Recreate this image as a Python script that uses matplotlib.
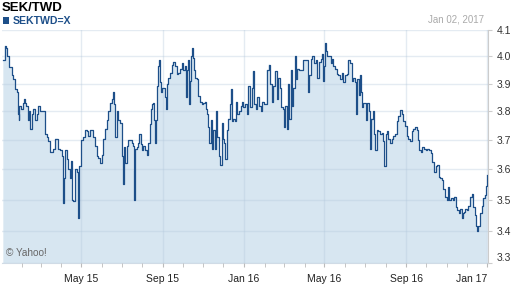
import matplotlib
matplotlib.use("Agg")
import matplotlib.pyplot as plt
import matplotlib.dates as mdates
from matplotlib.patches import Rectangle
from matplotlib.ticker import NullLocator
import pandas as pd

# ===== 1) Datos (leídos del gráfico) =====
start_date = "2015-01-02"
end_date = "2017-01-02"

# días desde start_date
day_offset = [
    2, 4, 6, 8, 11, 15, 17, 20, 23, 24, 25, 26, 29, 32, 33, 35, 36, 39, 40, 42,
    45, 47, 50, 53, 54, 57, 60, 62, 65, 68, 69, 72, 75, 77, 80, 83, 84, 87, 90, 92,
    93, 95, 98, 99, 102, 104, 105, 106, 107, 110, 111, 113, 114, 116, 119, 122, 125, 128, 129, 132,
    135, 137, 140, 143, 144, 147, 150, 152, 155, 158, 160, 162, 165, 167, 169, 170, 173, 175, 178, 181,
    182, 184, 185, 188, 190, 193, 196, 197, 198, 199, 200, 203, 205, 206, 209, 211, 212, 215, 218, 220,
    223, 224, 226, 227, 229, 230, 232, 233, 235, 236, 237, 238, 239, 241, 244, 245, 246, 248, 250, 253,
    256, 257, 260, 263, 265, 268, 271, 272, 275, 277, 278, 280, 281, 283, 284, 286, 287, 289, 290, 293,
    295, 298, 301, 302, 305, 307, 308, 310, 311, 314, 316, 317, 320, 322, 323, 326, 328, 331, 332, 334,
    335, 338, 340, 343, 344, 346, 347, 350, 352, 353, 356, 359, 361, 362, 365, 368, 370, 373, 376, 377,
    379, 382, 383, 386, 389, 391, 394, 397, 398, 401, 403, 406, 407, 410, 413, 415, 418, 419, 422, 424,
    425, 428, 430, 431, 434, 436, 438, 441, 442, 444, 447, 451, 453, 456, 459, 460, 462, 465, 466, 469,
    472, 474, 477, 480, 481, 483, 484, 486, 487, 489, 492, 495, 496, 498, 501, 504, 505, 508, 511, 513,
    516, 519, 520, 523, 526, 528, 531, 532, 534, 537, 538, 540, 541, 543, 546, 547, 549, 552, 553, 555,
    558, 559, 561, 564, 565, 568, 571, 573, 574, 577, 579, 580, 583, 586, 588, 591, 594, 596, 599, 602,
    603, 606, 609, 611, 614, 617, 618, 621, 624, 626, 627, 630, 632, 635, 638, 639, 642, 645, 647, 650,
    653, 654, 657, 659, 662, 663, 666, 669, 671, 672, 675, 678, 680, 683, 684, 687, 689, 692, 693, 695,
    696, 699, 701, 704, 707, 708, 711, 713, 714, 716, 719, 722, 723, 726, 728, 730,
]

rate = [
    3.985, 4.04, 4.03, 4.00, 3.96, 3.93, 3.915, 3.88, 3.87, 3.79, 3.77, 3.82, 3.81, 3.83, 3.845, 3.83, 3.82, 3.77, 3.80, 3.74,
    3.79, 3.81, 3.77, 3.79, 3.82, 3.80, 3.80, 3.80, 3.72, 3.71, 3.695, 3.66, 3.66, 3.67, 3.705, 3.705, 3.67, 3.665, 3.645, 3.49,
    3.57, 3.665, 3.635, 3.60, 3.57, 3.63, 3.55, 3.50, 3.495, 3.60, 3.60, 3.59, 3.44, 3.61, 3.70, 3.71, 3.735, 3.73, 3.715, 3.735,
    3.735, 3.71, 3.68, 3.645, 3.64, 3.62, 3.65, 3.705, 3.74, 3.77, 3.80, 3.83, 3.845, 3.87, 3.825, 3.71, 3.80, 3.77, 3.76, 3.645,
    3.55, 3.675, 3.62, 3.68, 3.70, 3.70, 3.69, 3.68, 3.595, 3.50, 3.67, 3.675, 3.69, 3.72, 3.685, 3.665, 3.68, 3.665, 3.65, 3.69,
    3.755, 3.81, 3.825, 3.83, 3.77, 3.69, 3.77, 3.89, 3.965, 3.985, 3.945, 3.905, 3.87, 3.885, 3.885, 3.85, 3.81, 3.90, 3.92, 3.94,
    3.97, 3.98, 3.965, 3.935, 3.94, 3.955, 3.975, 3.95, 3.965, 3.85, 3.95, 3.985, 3.825, 3.91, 4.00, 4.03, 3.995, 3.95, 3.92, 3.915,
    3.855, 3.835, 3.825, 3.83, 3.835, 3.81, 3.79, 3.745, 3.69, 3.77, 3.67, 3.735, 3.67, 3.80, 3.71, 3.645, 3.615, 3.76, 3.705, 3.69,
    3.635, 3.735, 3.775, 3.825, 3.88, 3.765, 3.775, 3.765, 3.835, 3.79, 3.80, 3.82, 3.835, 3.815, 3.825, 3.79, 3.89, 3.815, 3.885, 3.945,
    3.825, 3.81, 3.85, 3.82, 3.80, 3.835, 3.825, 3.825, 3.95, 3.97, 3.90, 3.835, 3.89, 3.945, 3.845, 3.92, 3.885, 3.815, 3.81, 3.745,
    3.82, 3.74, 3.90, 3.775, 3.95, 3.82, 3.885, 4.00, 3.915, 3.955, 3.95, 3.95, 3.985, 3.985, 3.985, 3.87, 3.93, 3.99, 4.00, 3.975,
    3.985, 3.92, 3.98, 3.99, 4.01, 3.91, 3.965, 4.05, 4.02, 4.00, 4.00, 3.975, 3.99, 3.965, 3.955, 3.935, 3.93, 3.915, 3.94, 3.905,
    3.93, 3.935, 3.985, 3.975, 3.91, 3.92, 3.905, 3.79, 3.915, 3.86, 3.93, 3.87, 3.815, 3.83, 3.83, 3.77, 3.83, 3.80, 3.67, 3.775,
    3.80, 3.72, 3.665, 3.735, 3.73, 3.72, 3.725, 3.695, 3.61, 3.72, 3.73, 3.705, 3.69, 3.705, 3.715, 3.72, 3.765, 3.785, 3.805, 3.79,
    3.765, 3.75, 3.715, 3.705, 3.695, 3.73, 3.74, 3.745, 3.735, 3.70, 3.665, 3.66, 3.675, 3.67, 3.665, 3.67, 3.665, 3.655, 3.625, 3.59,
    3.61, 3.615, 3.575, 3.57, 3.565, 3.535, 3.51, 3.50, 3.54, 3.50, 3.505, 3.50, 3.51, 3.475, 3.465, 3.455, 3.47, 3.44, 3.455, 3.46,
    3.47, 3.465, 3.48, 3.51, 3.52, 3.475, 3.45, 3.415, 3.40, 3.415, 3.455, 3.48, 3.505, 3.515, 3.545, 3.58,
]

y_ticks = [3.3, 3.4, 3.5, 3.6, 3.7, 3.8, 3.9, 4.0, 4.1]
y_labels = ["3.3", "3.4", "3.5", "3.6", "3.7", "3.8", "3.9", "4.0", "4.1"]
x_ticks = ["2015-05-01", "2015-09-01", "2016-01-01", "2016-05-01", "2016-09-01", "2017-01-01"]
x_labels = ["May 15", "Sep 15", "Jan 16", "May 16", "Sep 16", "Jan 17"]

LINE = "#1d4f89"
FILL = "#d7e6f1"

plt.rcParams["font.family"] = ["Liberation Sans", "DejaVu Sans"]

# ===== 2) Figura =====
dates = pd.Timestamp(start_date) + pd.to_timedelta(day_offset, unit="D")

fig = plt.figure(figsize=(5.12, 2.88), dpi=100)
ax = fig.add_axes([2 / 512, 1 - 262.7 / 288, 486 / 512, (262.7 - 30) / 288])

ax.fill_between(dates, rate, 3.0, step="post", color=FILL, lw=0, zorder=1)
ax.plot(dates, rate, drawstyle="steps-post", color=LINE, lw=0.9, zorder=3)

ax.set_yscale("log")
ax.set_ylim(3.3, 4.1)
ax.set_xlim(pd.Timestamp(start_date), pd.Timestamp(end_date))

ax.set_yticks(y_ticks, y_labels)
ax.yaxis.set_minor_locator(NullLocator())
ax.yaxis.tick_right()
ax.set_xticks(pd.to_datetime(x_ticks), x_labels)
ax.xaxis.set_minor_locator(mdates.MonthLocator())

ax.grid(True, which="major", color=(0.70, 0.78, 0.86), alpha=0.35, lw=1)
ax.set_axisbelow(False)

for s in ["left", "top"]:
    ax.spines[s].set_visible(False)
ax.spines["right"].set_color("#cccccc")
ax.spines["bottom"].set_color("#d0dbe6")

ax.tick_params(axis="x", which="both", direction="out", length=3, color="#bbbbbb",
               labelsize=7.5, labelcolor="#222222", pad=5)
ax.tick_params(axis="y", which="both", direction="out", length=3, color="#cccccc",
               labelsize=7.5, labelcolor="#333333", pad=3)

ax.xaxis.get_major_ticks()[-1].label1.set_horizontalalignment("right")
ax.yaxis.get_major_ticks()[0].label2.set_verticalalignment("bottom")

# ===== 3) Textos =====
fig.text(2 / 512, 1 - 8 / 288, "SEK/TWD", fontsize=9.5, fontweight="bold", color="black", va="center")
fig.add_artist(Rectangle((2.7 / 512, 1 - 24 / 288), 6 / 512, 7 / 288, transform=fig.transFigure,
                         color=LINE, lw=0))
fig.text(13 / 512, 1 - 20.5 / 288, "SEKTWD=X", fontsize=7.6, fontweight="bold", color=LINE, va="center")
fig.text(484 / 512, 1 - 20 / 288, "Jan 02, 2017", fontsize=7, color="#aaaaaa", ha="right", va="center")
fig.text(6 / 512, 1 - 253.5 / 288, "\u00a9 Yahoo!", fontsize=7.2, color="#666666", va="center", zorder=5)

fig.savefig("out.png", dpi=100)
